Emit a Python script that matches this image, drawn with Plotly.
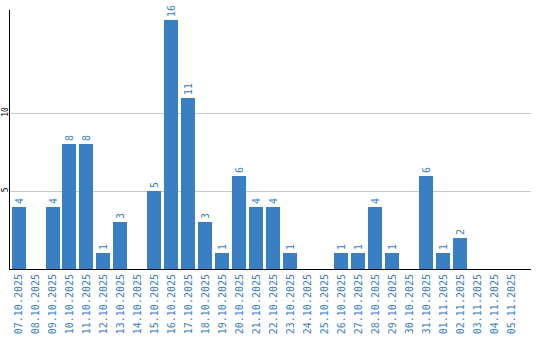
import plotly.graph_objects as go

dates = ["07.10.2025", "08.10.2025", "09.10.2025", "10.10.2025", "11.10.2025",
         "12.10.2025", "13.10.2025", "14.10.2025", "15.10.2025", "16.10.2025",
         "17.10.2025", "18.10.2025", "19.10.2025", "20.10.2025", "21.10.2025",
         "22.10.2025", "23.10.2025", "24.10.2025", "25.10.2025", "26.10.2025",
         "27.10.2025", "28.10.2025", "29.10.2025", "30.10.2025", "31.10.2025",
         "01.11.2025", "02.11.2025", "03.11.2025", "04.11.2025", "05.11.2025"]
counts = [4, 0, 4, 8, 8, 1, 3, 0, 5, 16, 11, 3, 1, 6, 4, 4, 1, 0, 0, 1,
          1, 4, 1, 0, 6, 1, 2, 0, 0, 0]
y_ticks = [5, 10]

labels = [str(v) if v > 0 else "" for v in counts]
blue = "#3a7ec3"
font_name = "DejaVu Sans Mono"

fig = go.Figure(go.Bar(
    x=list(range(len(dates))), y=counts, text=labels,
    textposition="outside", textangle=-90, cliponaxis=False,
    textfont=dict(family=font_name, size=10, color=blue),
    marker=dict(color=blue, line=dict(width=0)), width=14/17,
))
fig.update_layout(
    width=540, height=340, margin=dict(l=10, r=9, t=10, b=71),
    paper_bgcolor="white", plot_bgcolor="white", showlegend=False,
    bargap=0,
    xaxis=dict(range=[-0.5, 30.15], tickvals=list(range(len(dates))), ticktext=dates,
               tickangle=-90, tickfont=dict(family=font_name, size=10, color=blue),
               showline=True, linecolor="black", linewidth=1, showgrid=False,
               ticks="", zeroline=False, automargin=False),
    yaxis=dict(range=[0, 16.62], tickvals=y_ticks, tickangle=-90,
               tickfont=dict(family=font_name, size=8, color="black"),
               showline=True, linecolor="black", linewidth=1,
               showgrid=True, gridcolor="#c8c8c8", gridwidth=1, ticks="",
               zeroline=False, ticklabelstandoff=-2, automargin=False),
)
fig.write_html("out.html")
